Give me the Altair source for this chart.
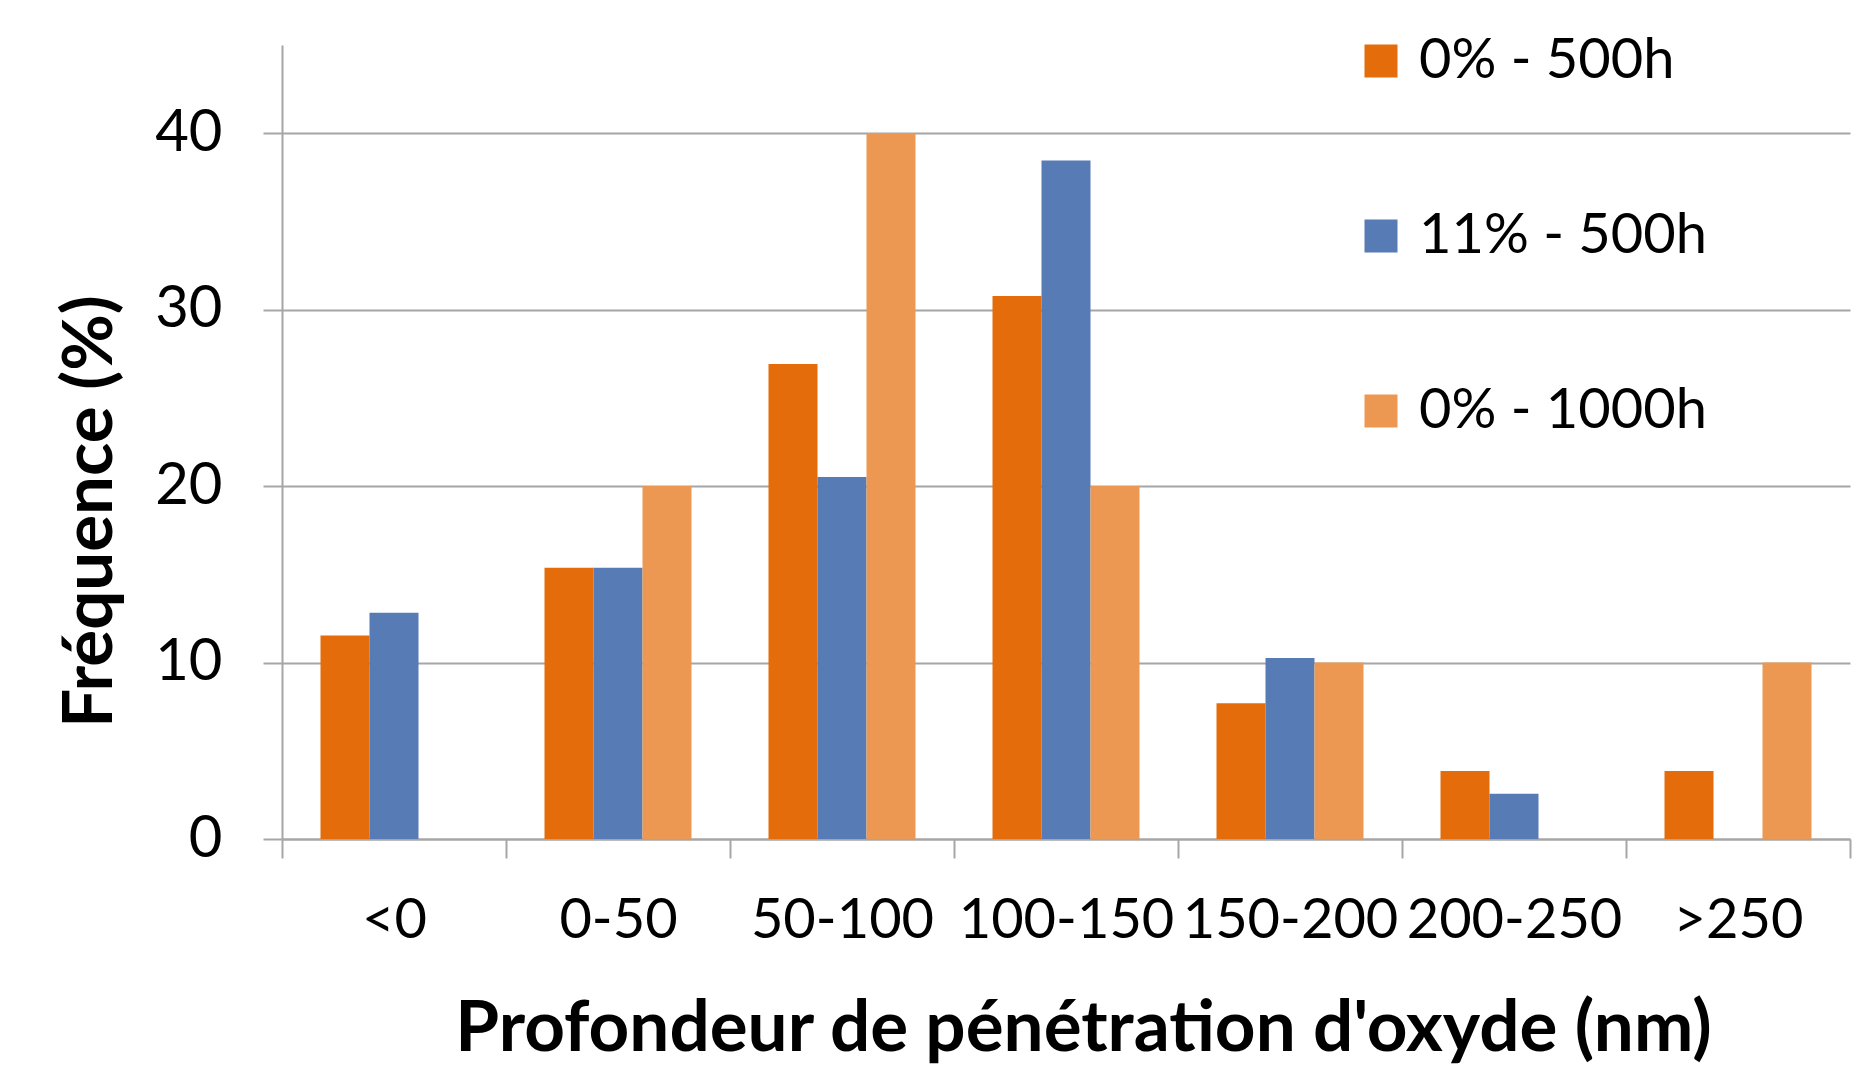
import altair as alt
import pandas as pd

categories = ["<0", "0-50", "50-100", "100-150", "150-200", "200-250", ">250"]
series_names = ["0% - 500h", "11% - 500h", "0% - 1000h"]
s_0_500 = [11.54, 15.38, 26.92, 30.77, 7.69, 3.85, 3.85]
s_11_500 = [12.82, 15.38, 20.51, 38.46, 10.26, 2.56, 0.0]
s_0_1000 = [0.0, 20.0, 40.0, 20.0, 10.0, 0.0, 10.0]
y_ticks = [0, 10, 20, 30, 40]
colors = ["#E46C0A", "#577BB4", "#EC9853"]

rows = []
for name, vals in zip(series_names, [s_0_500, s_11_500, s_0_1000]):
    for c, v in zip(categories, vals):
        rows.append({"cat": c, "series": name, "value": v})
df = pd.DataFrame(rows)

FONT = "Lato"
GRID = "#A6A6A6"

chart = alt.Chart(df).mark_bar().encode(
    x=alt.X("cat:N", sort=categories,
            scale=alt.Scale(paddingInner=0, paddingOuter=0),
            axis=alt.Axis(title="Profondeur de pénétration d'oxyde (nm)",
                          labelAngle=0, labelFontSize=56, labelFont=FONT,
                          labelColor="#000000", labelPadding=35, labelLimit=0,
                          tickBand="extent", tickSize=19, tickWidth=2,
                          tickColor=GRID, domainColor=GRID, domainWidth=2,
                          grid=False,
                          titleFont=FONT, titleFontSize=71, titleFontWeight="bold",
                          titleColor="#000000", titleBaseline="alphabetic",
                          titleAnchor="start", titleAlign="center",
                          titleX=801, titleY=211)),
    xOffset=alt.XOffset("series:N", sort=series_names,
                        scale=alt.Scale(paddingInner=0, paddingOuter=0.786)),
    y=alt.Y("value:Q",
            scale=alt.Scale(domain=[0, 45], nice=False),
            axis=alt.Axis(title="Fréquence (%)", values=y_ticks,
                          labelFontSize=58, labelFont=FONT, labelColor="#000000",
                          labelPadding=41, tickSize=19, tickWidth=2,
                          tickColor=GRID, domainColor=GRID, domainWidth=2,
                          grid=True, gridColor=GRID, gridWidth=2,
                          titleFont=FONT, titleFontSize=69, titleFontWeight="bold",
                          titleColor="#000000", titleBaseline="alphabetic",
                          titleAngle=270, titleAlign="center",
                          titleX=-171, titleY=466)),
    color=alt.Color("series:N", sort=series_names,
                    scale=alt.Scale(domain=series_names, range=colors),
                    legend=alt.Legend(title=None, orient="none",
                                      legendX=1071, legendY=-12,
                                      symbolType="square", symbolSize=1089,
                                      symbolStrokeWidth=0,
                                      labelFont=FONT, labelFontSize=56,
                                      labelColor="#000000", labelOffset=10,
                                      rowPadding=119, padding=0,
                                      labelLimit=0)),
).properties(
    width=1568, height=794,
    autosize=alt.AutoSizeParams(type="none"),
    padding={"left": 274, "top": 37, "right": 17, "bottom": 232},
).configure_view(stroke=None)

chart.save("out.html", embed_options={"renderer": "svg", "actions": False})
